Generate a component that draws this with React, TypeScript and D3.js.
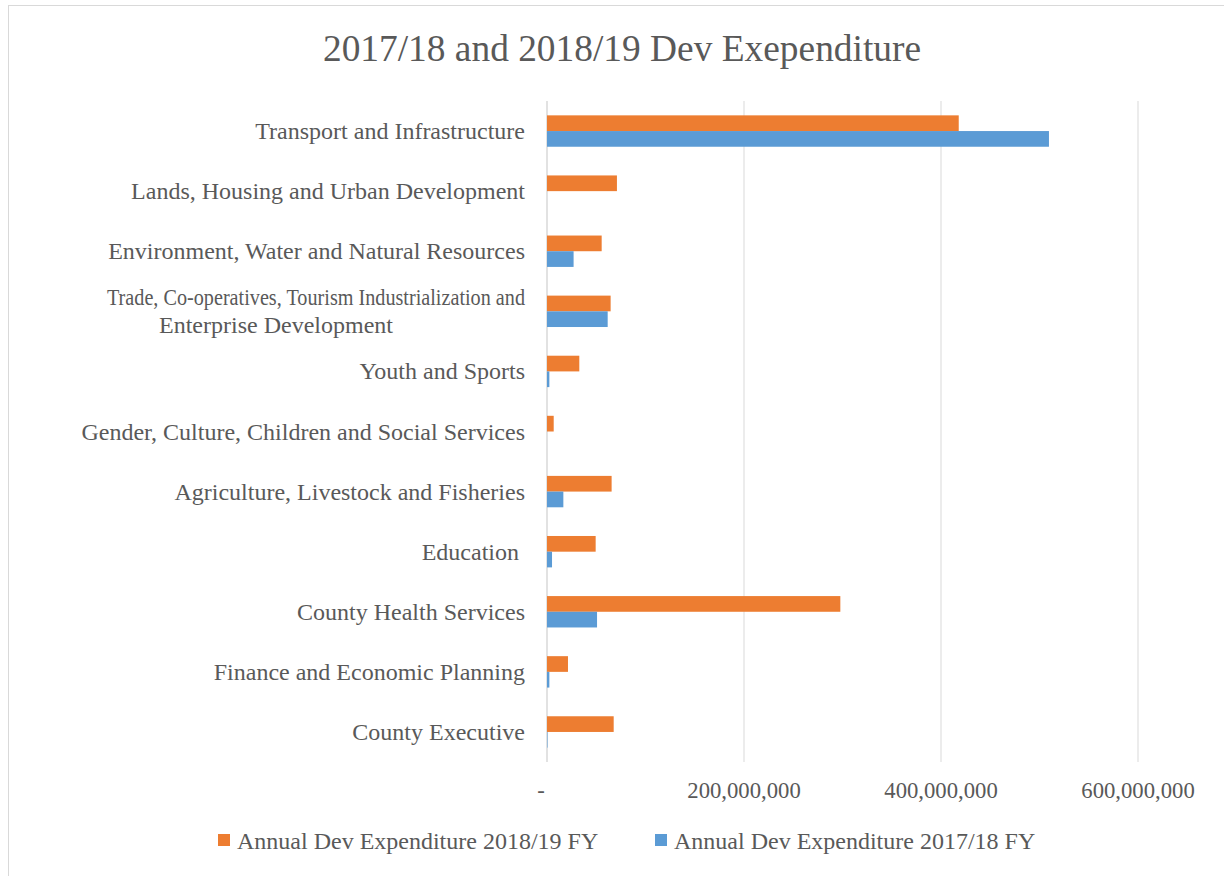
import React, { useEffect, useRef } from 'react';
import * as d3 from 'd3';

const categories = [
  'Transport and Infrastructure',
  'Lands, Housing and Urban Development',
  'Environment, Water and Natural Resources',
  'Trade, Co-operatives, Tourism Industrialization and|Enterprise Development',
  'Youth and Sports',
  'Gender, Culture, Children and Social Services',
  'Agriculture, Livestock and Fisheries',
  'Education ',
  'County Health Services',
  'Finance and Economic Planning',
  'County Executive',
];

const seriesNames = ['Annual Dev Expenditure 2018/19 FY', 'Annual Dev Expenditure 2017/18 FY'];
const seriesColors = ['#ED7D31', '#5B9BD5'];

const exp2018_19 = [418e6, 71e6, 55.5e6, 64.6e6, 32.8e6, 6.8e6, 65.6e6, 49.4e6, 297.8e6, 21.3e6, 67.7e6];
const exp2017_18 = [509.6e6, 0, 27e6, 61.6e6, 2.4e6, 0, 16.6e6, 5.1e6, 50.8e6, 2.4e6, 0.5e6];

const xTicks = [0, 200e6, 400e6, 600e6];

const W = 1224;
const H = 876;
const FONT = '"Liberation Serif", "Times New Roman", serif';
const TEXT = '#595959';

const App: React.FC = () => {
  const svgRef = useRef<SVGSVGElement>(null);

  useEffect(() => {
    if (!svgRef.current) return;
    const svg = d3.select(svgRef.current);
    svg.selectAll('*').remove();

    svg.append('rect')
      .attr('x', 8.5).attr('y', 5.5)
      .attr('width', W + 100).attr('height', H + 100)
      .attr('fill', '#fff').attr('stroke', '#D9D9D9').attr('stroke-width', 1);

    const x = d3.scaleLinear().domain([0, 600e6]).range([547, 1138]);
    const y = d3.scaleBand().domain(categories).range([101, 762]).padding(0);
    const inner = d3.scaleBand().domain(seriesNames).range([0, y.bandwidth()])
      .paddingInner(0).paddingOuter(0.914);

    // title
    svg.append('text')
      .attr('x', 622).attr('y', 48)
      .attr('text-anchor', 'middle').attr('dominant-baseline', 'central')
      .attr('font-family', FONT).attr('font-size', 37.4).attr('fill', TEXT)
      .text('2017/18 and 2018/19 Dev Exependiture');

    // gridlines
    svg.append('g').selectAll('line')
      .data(xTicks)
      .enter().append('line')
      .attr('x1', d => x(d)).attr('x2', d => x(d))
      .attr('y1', 101).attr('y2', 762)
      .attr('stroke', '#D9D9D9')
      .attr('stroke-width', d => (d === 0 ? 1.5 : 1));

    // tick labels
    svg.append('g').selectAll('text')
      .data(xTicks)
      .enter().append('text')
      .attr('x', d => (d === 0 ? x(d) - 6 : x(d)))
      .attr('y', 790)
      .attr('text-anchor', 'middle').attr('dominant-baseline', 'central')
      .attr('font-family', FONT).attr('font-size', 22.7).attr('fill', TEXT)
      .text(d => (d === 0 ? '-' : d3.format(',')(d)));

    // bars
    const seriesData = [exp2018_19, exp2017_18];
    seriesData.forEach((vals, si) => {
      svg.append('g').selectAll('rect')
        .data(vals)
        .enter().append('rect')
        .attr('x', x(0))
        .attr('y', (_, i) => (y(categories[i]) as number) + (inner(seriesNames[si]) as number))
        .attr('width', d => x(d) - x(0))
        .attr('height', inner.bandwidth())
        .attr('fill', seriesColors[si]);
    });

    // category labels
    const labels = svg.append('g');
    categories.forEach(c => {
      const lines = c.split('|');
      const cy = (y(c) as number) + y.bandwidth() / 2;
      lines.forEach((l, li) => {
        const t = labels.append('text')
          .attr('y', cy + (li - (lines.length - 1) / 2) * 28)
          .attr('dominant-baseline', 'central')
          .attr('font-family', FONT).attr('font-size', 24).attr('fill', TEXT)
          .style('white-space', 'pre')
          .text(l);
        if (lines.length > 1 && li === 0) {
          // wrapped label: first line squeezed like the original
          t.attr('x', 525).attr('text-anchor', 'end')
            .attr('textLength', 418).attr('lengthAdjust', 'spacingAndGlyphs');
        } else if (lines.length > 1) {
          t.attr('x', 276).attr('text-anchor', 'middle');
        } else {
          t.attr('x', 525).attr('text-anchor', 'end');
        }
      });
    });

    // legend
    const legendPos = [218, 655];
    seriesNames.forEach((s, i) => {
      svg.append('rect')
        .attr('x', legendPos[i]).attr('y', 834)
        .attr('width', 12).attr('height', 12)
        .attr('fill', seriesColors[i]);
      svg.append('text')
        .attr('x', legendPos[i] + 19).attr('y', 841)
        .attr('dominant-baseline', 'central')
        .attr('font-family', FONT).attr('font-size', 24).attr('fill', TEXT)
        .text(s);
    });
  }, []);

  return (
    <div style={{ position: 'fixed', left: 0, top: 0, width: W, height: H, background: '#fff' }}>
      <svg ref={svgRef} width={W} height={H}></svg>
    </div>
  );
};

export default App;
